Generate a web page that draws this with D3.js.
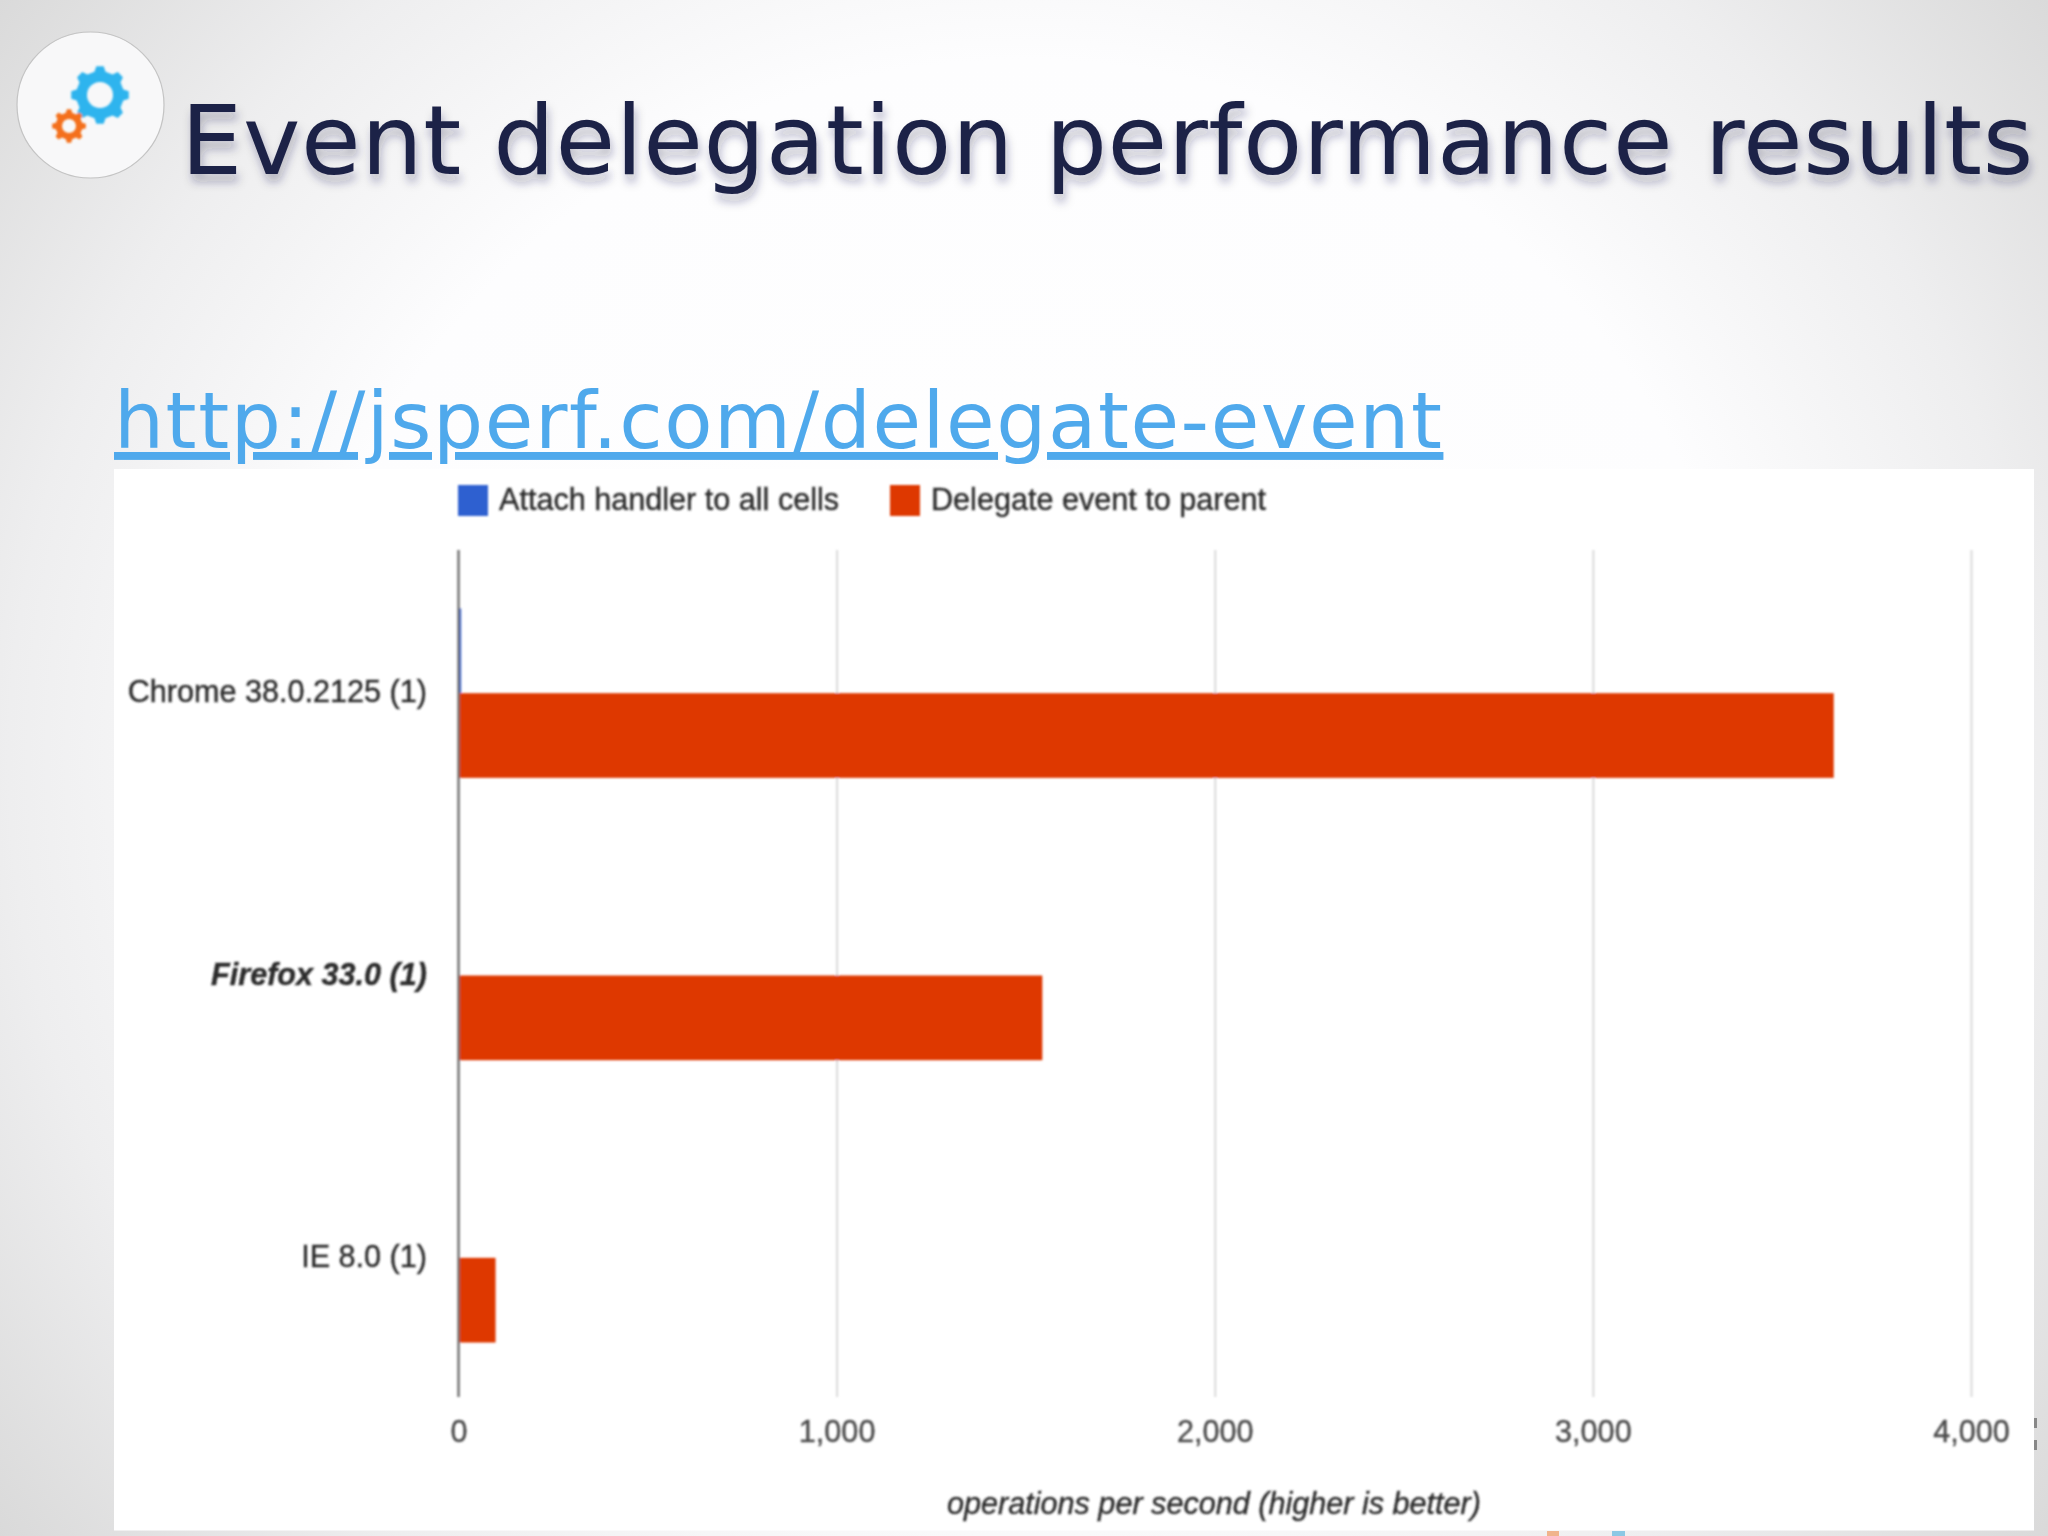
<!DOCTYPE html>
<html><head><meta charset="utf-8">
<script src="https://cdn.jsdelivr.net/npm/d3@7"></script>
<style>html,body{margin:0;padding:0;background:#fff}svg{display:block}</style>
</head><body><div id="c"></div>
<script>
const categories = ["Chrome 38.0.2125 (1)", "Firefox 33.0 (1)", "IE 8.0 (1)"];
const seriesNames = ["Attach handler to all cells", "Delegate event to parent"];
const attachValues = [7, 1, 1];
const delegateValues = [3637, 1544, 98];
const tickValues = [0, 1000, 2000, 3000, 4000];
const seriesColors = ["#2f60d0", "#de3800"];

const W = 2048, H = 1536;
const svg = d3.select("#c").append("svg").attr("width", W).attr("height", H);
const defs = svg.append("defs");

const bg = defs.append("radialGradient").attr("id","bg").attr("gradientUnits","userSpaceOnUse")
  .attr("cx",0).attr("cy",0).attr("r",1)
  .attr("gradientTransform","translate(1024,760) scale(1450,1400)");
[[0,"#ffffff"],[0.5,"#fdfdfe"],[0.7,"#eeeeef"],[0.9,"#d9d9d9"],[1,"#cfcfcf"]].forEach(s=>
  bg.append("stop").attr("offset",s[0]).attr("stop-color",s[1]));
const soft = defs.append("filter").attr("id","soft").attr("x","-5%").attr("y","-5%").attr("width","110%").attr("height","110%");
soft.append("feGaussianBlur").attr("stdDeviation",0.9);
const shadow = defs.append("filter").attr("id","shadow").attr("x","-5%").attr("y","-30%").attr("width","110%").attr("height","170%");
shadow.append("feDropShadow").attr("dx",2).attr("dy",8).attr("stdDeviation",5).attr("flood-color","#1f2345").attr("flood-opacity",0.3);

svg.append("rect").attr("width",W).attr("height",H).attr("fill","url(#bg)");

// icon
svg.append("ellipse").attr("cx",90.5).attr("cy",105).attr("rx",73.5).attr("ry",73)
  .attr("fill","#f8f8f9").attr("stroke","#c4c4c4").attr("stroke-width",1.2);
const icon = svg.append("g").attr("filter","url(#soft)");
function gear(cx, cy, ro, ri, hole, n, color){
  const step = 2*Math.PI/n, pts=[];
  for(let i=0;i<n;i++){
    const a=i*step;
    [[-0.30,ri],[-0.16,ro],[0.16,ro],[0.30,ri]].forEach(p=>pts.push([a+p[0]*step,p[1]]));
  }
  const outer=d3.lineRadial().curve(d3.curveLinearClosed)(pts);
  const inner=d3.arc()({innerRadius:0,outerRadius:hole,startAngle:0,endAngle:2*Math.PI});
  icon.append("path").attr("transform",`translate(${cx},${cy})`).attr("d",outer+inner)
    .attr("fill",color).attr("fill-rule","evenodd");
}
gear(100,95,29,24,13,8,"#2fb4ee");
gear(69,126,17,13.5,7,8,"#f4701a");

// title + link
svg.append("text").attr("x",181).attr("y",174).attr("font-family","DejaVu Sans")
  .attr("font-size",97).attr("letter-spacing",0.6).attr("fill","#1f2347").attr("filter","url(#shadow)")
  .text("Event delegation performance results");
svg.append("text").attr("x",114).attr("y",448).attr("font-family","DejaVu Sans")
  .attr("font-size",79).attr("letter-spacing",1.55).attr("fill","#4fa9ec").attr("text-decoration","underline")
  .text("http://jsperf.com/delegate-event");

// chart panel
svg.append("rect").attr("x",114).attr("y",469).attr("width",1920).attr("height",1061.5).attr("fill","#fff");
svg.append("rect").attr("x",1547).attr("y",1531).attr("width",12).attr("height",5).attr("fill","#f0b48c");
svg.append("rect").attr("x",1612).attr("y",1531).attr("width",13).attr("height",5).attr("fill","#8cc8e4");
svg.append("rect").attr("x",2034).attr("y",1418).attr("width",3).attr("height",10).attr("fill","#888");
svg.append("rect").attr("x",2034).attr("y",1440).attr("width",3).attr("height",10).attr("fill","#888");

const chart = svg.append("g").attr("filter","url(#soft)").attr("font-family","Liberation Sans");
const x = d3.scaleLinear().domain([0,4000]).range([458.5,1971]);
const y0 = d3.scaleBand().domain(categories).range([552,1399]).paddingInner(0.4).paddingOuter(0.2);
const y1 = d3.scaleBand().domain(seriesNames).range([0,y0.bandwidth()]);

// gridlines + tick labels
const xAxis = chart.append("g").attr("transform","translate(0,1397)")
  .call(d3.axisBottom(x).tickValues(tickValues).tickFormat(d3.format(",")).tickSize(-847).tickPadding(23));
xAxis.select(".domain").remove();
xAxis.selectAll("line").attr("stroke","#dadada").attr("stroke-width",2);
xAxis.selectAll("text").attr("font-family","Liberation Sans").attr("font-size",30.6)
  .attr("fill","#4c4c4c").attr("stroke","#4c4c4c").attr("stroke-width",0.4);

// bars
const rows = categories.map((c,i)=>({c, vals:[attachValues[i],delegateValues[i]]}));
const rowG = chart.selectAll("g.row").data(rows).join("g").attr("class","row")
  .attr("transform",d=>`translate(0,${y0(d.c)})`);
rowG.selectAll("rect").data(d=>d.vals.map((v,i)=>({v,s:seriesNames[i],i}))).join("rect")
  .attr("x",x(0)).attr("y",d=>y1(d.s)).attr("width",d=>x(d.v)-x(0)).attr("height",y1.bandwidth())
  .attr("fill",d=>seriesColors[d.i]);

// zero baseline
chart.append("line").attr("x1",x(0)).attr("x2",x(0)).attr("y1",550).attr("y2",1397)
  .attr("stroke","#707070").attr("stroke-width",2.4);

// category labels
const yAxis = chart.append("g").attr("transform","translate(427,0)")
  .call(d3.axisLeft(y0).tickSize(0).tickPadding(0));
yAxis.select(".domain").remove();
yAxis.selectAll("text").attr("font-family","Liberation Sans").attr("font-size",30.6)
  .attr("dy",".30em")
  .attr("font-weight",d=>d.startsWith("Firefox")?"bold":"normal")
  .attr("font-style",d=>d.startsWith("Firefox")?"italic":"normal")
  .attr("fill","#2c2c2c").attr("stroke","#2c2c2c").attr("stroke-width",0.4);

// legend
const legendX = [458,890];
const lg = chart.selectAll("g.leg").data(seriesNames).join("g").attr("class","leg")
  .attr("transform",(d,i)=>`translate(${legendX[i]},485)`);
lg.append("rect").attr("width",30).attr("height",31).attr("fill",(d,i)=>seriesColors[i]);
lg.append("text").attr("x",41).attr("y",25).attr("font-size",30.6)
  .attr("fill","#2c2c2c").attr("stroke","#2c2c2c").attr("stroke-width",0.4).text(d=>d);

chart.append("text").attr("x",1214).attr("y",1514).attr("text-anchor","middle")
  .attr("font-size",30.6).attr("font-style","italic")
  .attr("fill","#2c2c2c").attr("stroke","#2c2c2c").attr("stroke-width",0.4)
  .text("operations per second (higher is better)");
</script></body></html>
